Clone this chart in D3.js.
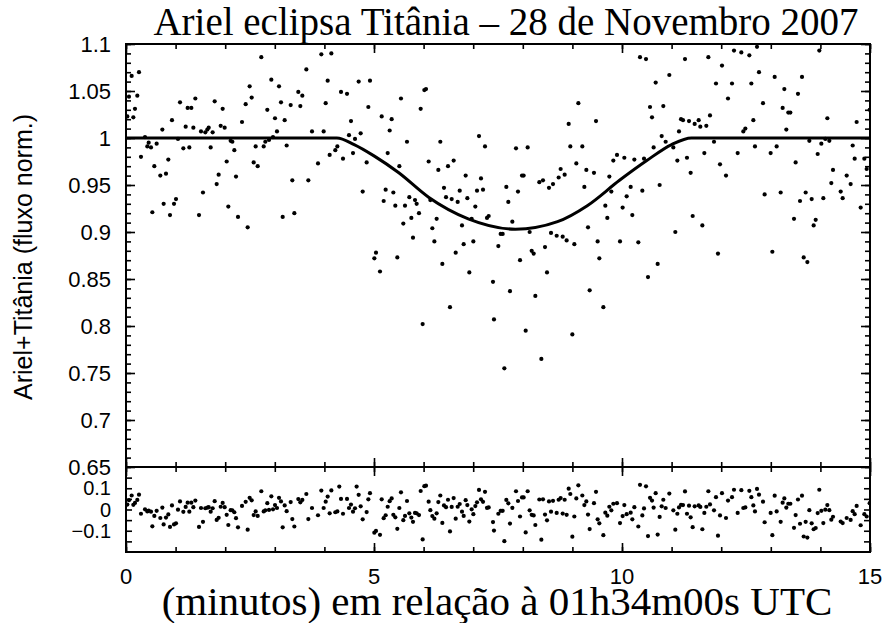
<!DOCTYPE html>
<html>
<head>
<meta charset="utf-8">
<script src="https://cdn.jsdelivr.net/npm/d3@7"></script>
<style>
  html, body { margin: 0; padding: 0; background: #fff; }
  svg { display: block; }
</style>
</head>
<body>
<svg id="chart" width="885" height="623"></svg>
<script>
// Observation times (minutes after 01h34m00s UTC)
const minutes = [
  0.027,0.060,0.114,0.148,0.181,0.228,0.262,0.302,0.383,0.430,0.457,0.504,0.531,0.571,0.618,0.692,0.733,0.759,0.806,0.853,
  0.887,0.927,0.968,1.008,1.048,1.089,1.156,1.203,1.243,1.277,1.317,1.358,1.398,1.472,1.512,1.552,1.599,1.640,1.667,1.707,
  1.747,1.788,1.828,1.868,1.909,1.949,1.989,2.030,2.063,2.110,2.144,2.184,2.218,2.258,2.339,2.413,2.453,2.493,2.534,2.574,
  2.614,2.655,2.728,2.776,2.809,2.849,2.883,2.930,2.964,3.004,3.044,3.085,3.125,3.159,3.199,3.239,3.320,3.353,3.394,3.474,
  3.515,3.555,3.636,3.676,3.750,3.871,3.938,3.985,4.026,4.066,4.106,4.140,4.220,4.261,4.300,4.335,4.375,4.456,4.496,4.536,
  4.577,4.617,4.650,4.691,4.731,4.772,4.852,4.886,4.919,
  5.007,5.040,5.121,5.155,5.195,5.235,5.276,5.316,5.356,5.390,5.430,5.470,5.511,5.544,5.591,5.625,5.665,5.712,5.753,5.786,
  5.827,5.860,5.907,5.941,5.981,6.015,6.048,6.102,6.136,6.176,6.217,6.263,6.297,6.337,6.378,6.411,6.452,6.492,6.532,6.566,
  6.606,6.647,6.687,6.728,6.774,6.808,6.848,6.882,6.922,6.969,7.003,7.043,7.077,7.117,7.157,7.198,7.238,7.278,7.312,7.399,
  7.419,7.507,7.554,7.594,7.628,7.668,7.708,7.742,7.789,7.863,7.903,7.944,7.984,8.017,8.058,8.098,8.138,8.179,8.219,8.253,
  8.333,8.374,8.407,8.448,8.488,8.528,8.569,8.609,8.683,8.723,8.763,8.804,8.844,8.884,8.925,8.958,8.999,9.039,9.079,9.120,
  9.200,9.241,9.281,9.315,9.348,9.435,9.476,9.509,9.543,9.624,9.664,9.704,9.745,9.785,9.825,9.899,9.960,
  10.013,10.047,10.094,10.175,10.208,10.249,10.329,10.363,10.410,10.444,10.484,10.524,10.565,10.605,10.638,10.679,10.719,10.759,10.800,10.833,
  10.880,10.954,11.035,11.075,11.116,11.149,11.190,11.230,11.270,11.310,11.351,11.384,11.425,11.465,11.546,11.579,11.620,11.660,11.700,11.741,
  11.774,11.855,11.895,11.935,11.976,12.016,12.097,12.137,12.218,12.258,12.332,12.406,12.446,12.487,12.567,12.608,12.648,12.681,12.722,12.762,
  12.843,12.876,12.997,13.031,13.078,13.118,13.199,13.239,13.273,13.313,13.353,13.394,13.468,13.501,13.548,13.589,13.629,13.663,13.703,13.737,
  13.777,13.824,13.864,13.905,13.945,13.978,14.019,14.059,14.099,14.140,14.180,14.220,14.254,14.409,14.449,14.530,14.610,14.651,14.691,14.731,
  14.812,14.886,14.933,14.993
];

// Normalised combined flux of Ariel + Titania
const flux = [
  1.023,1.044,1.066,1.022,1.031,1.045,1.070,0.980,1.001,0.991,0.995,0.990,0.921,0.970,0.994,0.960,1.009,0.930,0.962,0.977,
  0.918,1.019,0.930,0.935,0.999,1.038,0.989,1.012,1.032,0.990,1.032,1.011,1.042,0.918,1.007,0.942,1.006,1.009,1.011,0.990,
  1.006,1.039,0.951,0.961,1.013,1.031,1.011,0.975,0.927,0.997,0.996,0.987,0.959,0.916,1.017,1.036,0.905,1.055,1.043,0.974,
  0.991,0.970,1.086,0.991,0.996,1.030,0.998,1.062,1.001,1.021,1.007,1.055,1.038,0.916,1.019,0.992,1.035,0.955,0.920,1.049,
  1.034,1.045,1.073,0.955,1.007,0.973,1.089,1.007,1.037,1.061,0.982,1.090,0.987,0.991,1.107,1.049,0.978,1.047,1.003,1.018,
  0.984,0.999,1.104,1.060,1.005,0.943,0.974,1.033,1.061,
  0.872,0.878,0.858,1.023,0.933,0.945,0.984,1.008,1.020,0.942,0.928,0.873,0.970,1.042,0.909,0.928,0.996,0.937,0.915,0.894,
  0.934,0.930,0.920,1.031,0.802,1.051,1.052,0.975,0.934,0.904,0.890,0.914,0.966,0.996,0.866,0.947,0.937,0.970,0.820,0.935,
  0.976,0.878,0.932,0.944,0.907,0.887,0.960,0.936,0.857,0.914,0.890,0.927,0.944,1.002,0.957,0.945,0.991,0.915,0.917,0.847,
  0.807,0.885,0.898,0.898,0.755,0.948,0.932,0.837,0.911,0.989,0.943,0.870,0.960,0.960,0.795,0.990,0.900,0.880,0.877,0.832,
  0.953,0.765,0.955,0.884,0.857,0.947,0.899,0.951,0.896,0.958,0.967,0.895,0.961,0.891,1.015,0.991,0.791,0.887,0.973,1.037,
  0.991,0.948,0.966,0.905,0.838,0.963,1.018,0.890,0.872,0.820,0.928,0.915,0.959,0.943,0.976,0.982,0.890,
  0.926,0.979,0.938,0.948,0.918,0.977,0.889,1.086,0.944,0.978,1.084,0.852,1.033,1.022,0.990,1.059,0.866,0.950,1.002,1.034,
  0.996,1.067,0.990,0.900,0.976,1.007,1.020,1.019,1.084,0.979,1.018,0.963,0.917,1.015,1.019,1.012,0.907,0.984,1.013,1.086,
  1.024,0.996,1.058,0.877,0.972,1.077,0.960,1.042,1.058,1.093,0.984,1.091,1.007,1.010,1.088,1.058,1.019,0.991,1.097,1.070,
  1.037,0.940,0.984,0.879,1.065,0.991,0.942,1.032,1.052,1.009,1.027,1.027,0.914,0.974,1.047,0.933,1.065,0.873,0.942,0.868,
  0.997,0.935,0.907,0.913,0.983,1.093,0.994,0.936,0.999,1.021,0.997,0.952,0.966,0.943,0.936,0.960,0.951,0.992,0.978,1.017,
  0.926,0.978,0.967,1.030
];

// Residuals about the fitted eclipse model
const residual = [
  0.023,0.044,0.066,0.022,0.031,0.045,0.070,-0.020,0.001,-0.009,-0.005,-0.010,-0.079,-0.030,-0.006,-0.040,0.009,-0.070,-0.038,-0.023,
  -0.082,0.019,-0.070,-0.065,-0.001,0.038,-0.011,0.012,0.032,-0.010,0.032,0.011,0.042,-0.082,0.007,-0.058,0.006,0.009,0.011,-0.010,
  0.006,0.039,-0.049,-0.039,0.013,0.031,0.011,-0.025,-0.073,-0.003,-0.004,-0.013,-0.041,-0.084,0.017,0.036,-0.095,0.055,0.043,-0.026,
  -0.009,-0.030,0.086,-0.009,-0.004,0.030,-0.002,0.062,0.001,0.021,0.007,0.055,0.038,-0.084,0.019,-0.008,0.035,-0.045,-0.080,0.049,
  0.034,0.045,0.073,-0.045,0.007,-0.027,0.089,0.007,0.037,0.061,-0.018,0.090,-0.013,-0.009,0.108,0.050,-0.020,0.050,0.007,0.023,
  -0.010,0.006,0.108,0.069,0.015,-0.046,-0.012,0.048,0.077,
  -0.109,-0.101,-0.119,0.048,-0.041,-0.027,0.013,0.039,0.052,-0.025,-0.037,-0.091,0.007,0.081,-0.050,-0.030,0.040,-0.018,-0.038,-0.058,
  -0.016,-0.018,-0.026,0.087,-0.141,0.110,0.112,0.037,-0.003,-0.031,-0.043,-0.018,0.035,0.066,-0.063,0.019,0.011,0.046,-0.103,0.012,
  0.054,-0.043,0.013,0.026,-0.010,-0.030,0.044,0.021,-0.057,0.001,-0.022,0.016,0.034,0.092,0.048,0.036,0.083,0.008,0.010,-0.059,
  -0.099,-0.020,-0.006,-0.006,-0.149,0.045,0.029,-0.066,0.008,0.086,0.040,-0.033,0.057,0.057,-0.108,0.086,-0.004,-0.025,-0.028,-0.073,
  0.047,-0.142,0.048,-0.024,-0.051,0.038,-0.010,0.041,-0.016,0.046,0.054,-0.019,0.046,-0.025,0.098,0.073,-0.128,-0.033,0.052,0.114,
  0.066,0.021,0.038,-0.024,-0.092,0.030,0.083,-0.046,-0.065,-0.121,-0.015,-0.029,0.013,-0.004,0.027,0.030,-0.064,
  -0.031,0.021,-0.022,-0.015,-0.046,0.011,-0.080,0.116,-0.028,0.005,0.109,-0.125,0.055,0.042,0.009,0.077,-0.118,-0.035,0.015,0.046,
  0.007,0.075,-0.004,-0.095,-0.020,0.010,0.022,0.021,0.085,-0.020,0.018,-0.037,-0.083,0.015,0.019,0.012,-0.093,-0.016,0.013,0.086,
  0.024,-0.004,0.058,-0.123,-0.028,0.077,-0.040,0.042,0.058,0.093,-0.016,0.091,0.007,0.010,0.088,0.058,0.019,-0.009,0.097,0.070,
  0.037,-0.060,-0.016,-0.121,0.065,-0.009,-0.058,0.032,0.052,0.009,0.027,0.027,-0.086,-0.026,0.047,-0.067,0.065,-0.127,-0.058,-0.132,
  -0.003,-0.065,-0.093,-0.087,-0.017,0.093,-0.006,-0.064,-0.001,0.021,-0.003,-0.048,-0.034,-0.057,-0.064,-0.040,-0.049,-0.008,-0.022,0.017,
  -0.074,-0.022,-0.033,0.030
];

// Fitted eclipse light curve, sampled along the plotted line
const modelMinutes = [0, 4.25, 4.6, 5.0, 5.5, 6.1, 6.9, 7.85, 8.7, 9.3, 9.95, 10.5, 11.0, 11.4, 15];
const modelFlux    = [1.0, 1.0, 0.993, 0.981, 0.963, 0.937, 0.914, 0.903, 0.911, 0.928, 0.955, 0.976, 0.993, 1.0, 1.0];

// Axis ticks and their labels
const xTickValues   = [0, 5, 10, 15];
const xTickLabels   = ["0", "5", "10", "15"];
const yTickValues   = [0.65, 0.7, 0.75, 0.8, 0.85, 0.9, 0.95, 1.0, 1.05, 1.1];
const yTickLabels   = ["0.65", "0.7", "0.75", "0.8", "0.85", "0.9", "0.95", "1", "1.05", "1.1"];
const resTickValues = [-0.1, 0, 0.1];
const resTickLabels = ["\u22120.1", "0", "0.1"];

const titleText  = "Ariel eclipsa Tit\u00e2nia \u2013 28 de Novembro 2007";
const xLabelText = "(minutos) em rela\u00e7\u00e3o \u00e0 01h34m00s UTC";
const yLabelText = "Ariel+Tit\u00e2nia (fluxo norm.)";

// ---- layout ----
const L = 126, R = 870, T = 44, MID = 467, B = 552;
const sansFont = "'Liberation Sans', Arial, Helvetica, sans-serif";
const serifFont = "'Liberation Serif', 'Times New Roman', Times, serif";

const svg = d3.select("#chart");

const x = d3.scaleLinear().domain([0, 15]).range([L, R]);
const y = d3.scaleLinear().domain([0.65, 1.1]).range([MID, T]);
const yr = d3.scaleLinear().domain([-0.2, 0.2]).range([B, MID]);

const defs = svg.append("defs");
defs.append("clipPath").attr("id", "mainClip")
  .append("rect").attr("x", L).attr("y", T).attr("width", R - L).attr("height", MID - T);
defs.append("clipPath").attr("id", "resClip")
  .append("rect").attr("x", L).attr("y", MID).attr("width", R - L).attr("height", B - MID);

const points = minutes.map((m, i) => ({ m, f: flux[i], r: residual[i] }));

// inward tick marks drawn with d3 axes
function tickAxis(axisFn, scale, values, size, transform) {
  const g = svg.append("g")
    .attr("transform", transform)
    .call(axisFn(scale).tickValues(values).tickSize(size).tickFormat(""));
  g.select(".domain").remove();
  g.selectAll(".tick line").attr("stroke", "#000").attr("stroke-width", 1.6);
  return g;
}

const minorX = d3.range(0, 16, 1);
const majorX = xTickValues;
// main panel x ticks (bottom and top)
tickAxis(d3.axisBottom, x, minorX, -5, `translate(0,${MID})`);
tickAxis(d3.axisBottom, x, majorX, -9, `translate(0,${MID})`);
tickAxis(d3.axisTop, x, minorX, -5, `translate(0,${T})`);
tickAxis(d3.axisTop, x, majorX, -9, `translate(0,${T})`);
// residual panel x ticks
tickAxis(d3.axisBottom, x, minorX, -5, `translate(0,${B})`);
tickAxis(d3.axisBottom, x, majorX, -9, `translate(0,${B})`);
tickAxis(d3.axisTop, x, minorX, -5, `translate(0,${MID})`);
tickAxis(d3.axisTop, x, majorX, -9, `translate(0,${MID})`);

const minorY = d3.range(65, 111, 1).map(v => v / 100);
tickAxis(d3.axisLeft, y, minorY, -5, `translate(${L},0)`);
tickAxis(d3.axisLeft, y, yTickValues, -9, `translate(${L},0)`);
tickAxis(d3.axisRight, y, minorY, -5, `translate(${R},0)`);
tickAxis(d3.axisRight, y, yTickValues, -9, `translate(${R},0)`);

const resMinor = [-0.15, -0.1, -0.05, 0, 0.05, 0.1, 0.15];
tickAxis(d3.axisLeft, yr, resMinor, -6, `translate(${L},0)`);
tickAxis(d3.axisRight, yr, resMinor, -6, `translate(${R},0)`);

// data points
svg.append("g").attr("clip-path", "url(#mainClip)")
  .selectAll("circle").data(points).join("circle")
  .attr("cx", d => x(d.m)).attr("cy", d => y(d.f)).attr("r", 2.1).attr("fill", "#000");

svg.append("g").attr("clip-path", "url(#resClip)")
  .selectAll("circle").data(points).join("circle")
  .attr("cx", d => x(d.m)).attr("cy", d => yr(d.r)).attr("r", 2.1).attr("fill", "#000");

// model curve
const model = modelMinutes.map((m, i) => ({ m, f: modelFlux[i] }));
svg.append("path")
  .datum(model)
  .attr("clip-path", "url(#mainClip)")
  .attr("fill", "none").attr("stroke", "#000").attr("stroke-width", 3)
  .attr("stroke-linejoin", "round")
  .attr("d", d3.line().x(d => x(d.m)).y(d => y(d.f)).curve(d3.curveMonotoneX));

// frames
svg.append("rect").attr("x", L).attr("y", T).attr("width", R - L).attr("height", MID - T)
  .attr("fill", "none").attr("stroke", "#000").attr("stroke-width", 2);
svg.append("rect").attr("x", L).attr("y", MID).attr("width", R - L).attr("height", B - MID)
  .attr("fill", "none").attr("stroke", "#000").attr("stroke-width", 2);

// tick labels
svg.append("g").selectAll("text").data(yTickValues).join("text")
  .attr("x", 111).attr("y", d => y(d)).attr("dy", "0.36em")
  .attr("text-anchor", "end").attr("font-family", sansFont).attr("font-size", 22)
  .text((d, i) => yTickLabels[i]);

svg.append("g").selectAll("text").data(resTickValues).join("text")
  .attr("x", 111).attr("y", d => yr(d)).attr("dy", "0.36em")
  .attr("text-anchor", "end").attr("font-family", sansFont).attr("font-size", 20)
  .text((d, i) => resTickLabels[i]);

svg.append("g").selectAll("text").data(xTickValues).join("text")
  .attr("x", d => x(d)).attr("y", 584)
  .attr("text-anchor", "middle").attr("font-family", sansFont).attr("font-size", 22)
  .text((d, i) => xTickLabels[i]);

// titles
svg.append("text").attr("x", 506).attr("y", 35)
  .attr("text-anchor", "middle").attr("font-family", serifFont).attr("font-size", 39)
  .text(titleText);

svg.append("text").attr("x", 497).attr("y", 615)
  .attr("text-anchor", "middle").attr("font-family", serifFont).attr("font-size", 41)
  .text(xLabelText);

svg.append("text")
  .attr("transform", "translate(32,257) rotate(-90)")
  .attr("text-anchor", "middle").attr("font-family", sansFont).attr("font-size", 25)
  .text(yLabelText);
</script>
</body>
</html>
